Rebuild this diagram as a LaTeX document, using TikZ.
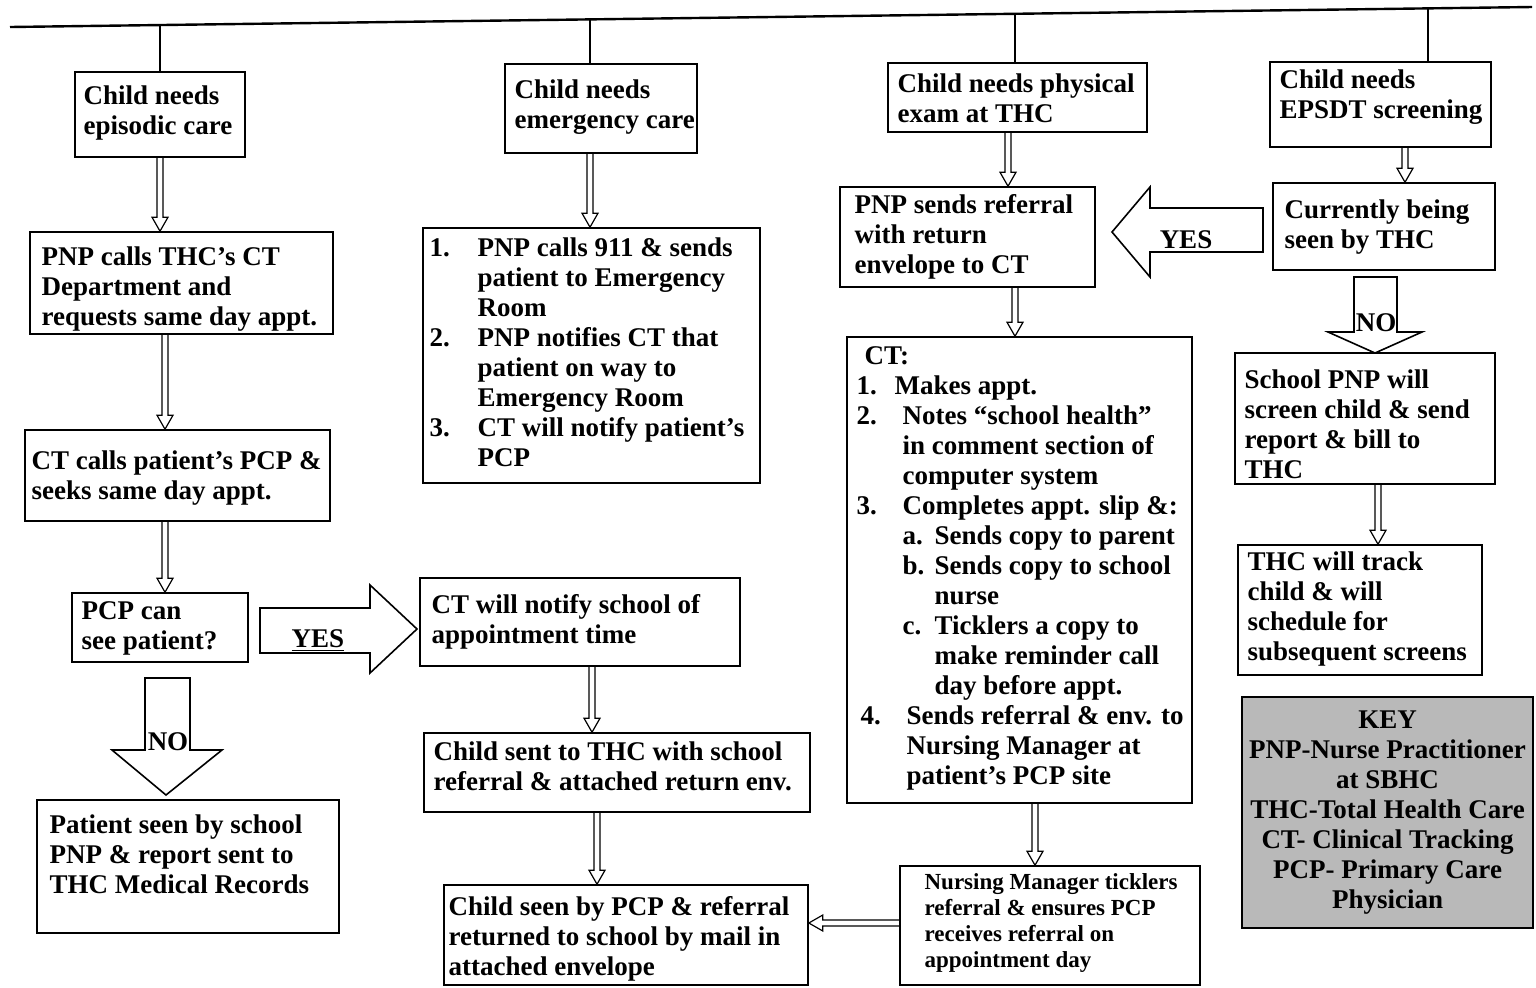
\documentclass[tikz,border=0pt]{standalone}
\usepackage{fontspec}
\setmainfont{Liberation Serif}
\usetikzlibrary{calc,fit}
\newcommand{\darr}[3]{%
  \path (#1,0) coordinate (dx);
  \coordinate (ds) at (#2.south -| dx);
  \coordinate (dt) at (#3.north -| dx);
  \draw[harrow] ($(ds)+(-3,0)$) -- ($(dt)+(-3,-14)$) -- ($(dt)+(-8,-14)$) -- (dt) -- ($(dt)+(8,-14)$) -- ($(dt)+(3,-14)$) -- ($(ds)+(3,0)$);}
\newcommand{\nb}[2]{\makebox[#1][l]{#2}}
\begin{document}
\begin{tikzpicture}[x=0.5pt,y=-0.5pt,
  box/.style={draw,line width=0.8pt,inner sep=0pt},
  txt/.style={inner sep=0pt,anchor=north west,align=left,font=\fontsize{13.5}{15}\selectfont\bfseries},
  smalltxt/.style={inner sep=0pt,anchor=north west,align=left,font=\fontsize{11.5}{13}\selectfont\bfseries},
  harrow/.style={draw,line width=0.6pt,line join=miter},
  big/.style={draw,line width=0.8pt,line join=miter,fill=white},
  lbl/.style={inner sep=0pt,font=\fontsize{13.5}{15}\selectfont\bfseries}]
\useasboundingbox (0,0) rectangle (1536,987);
\fill[white] (0,0) rectangle (1536,987);

% top line
\coordinate (L) at (10,27);
\coordinate (R) at (1532,7);
\draw[line width=1.2pt] (L) -- (R);

% row 1
\node[box, fit={(75,72) (245,157)}] (b1) {};
\node[txt] at ($(b1.north west)+(9,14)$) {Child needs\\episodic care};
\node[box, fit={(505,64) (697,153)}] (b2) {};
\node[txt] at ($(b2.north west)+(10,16)$) {Child needs\\emergency care};
\node[box, fit={(888,63) (1147,132)}] (b3) {};
\node[txt] at ($(b3.north west)+(10,11)$) {Child needs physical\\exam at THC};
\node[box, fit={(1270,62) (1491,147)}] (b4) {};
\node[txt] at ($(b4.north west)+(10,8)$) {Child needs\\EPSDT screening};

% drops
\path ($(L)!0.0986!(R)$) coordinate (t1);
\path ($(L)!0.3811!(R)$) coordinate (t2);
\path ($(L)!0.6603!(R)$) coordinate (t3);
\path ($(L)!0.9317!(R)$) coordinate (t4);
\draw[line width=0.8pt] (t1) -- (t1 |- b1.north);
\draw[line width=0.8pt] (t2) -- (t2 |- b2.north);
\draw[line width=0.8pt] (t3) -- (t3 |- b3.north);
\draw[line width=0.8pt] (t4) -- (t4 |- b4.north);

% column 1
\node[box, fit={(30,232) (333,334)}] (c1a) {};
\node[txt] at ($(c1a.north west)+(12,15)$) {PNP calls THC's CT\\Department and\\requests same day appt.};
\node[box, fit={(25,430) (330,521)}] (c1b) {};
\node[txt] at ($(c1b.north west)+(7,21)$) {CT calls patient's PCP \&\\seeks same day appt.};
\node[box, fit={(72,593) (248,662)}] (c1c) {};
\node[txt] at ($(c1c.north west)+(10,9)$) {PCP can\\see patient?};
\node[box, fit={(37,800) (339,933)}] (c1d) {};
\node[txt] at ($(c1d.north west)+(13,15)$) {Patient seen by school\\PNP \& report sent to\\THC Medical Records};

% column 2
\node[box, fit={(423,228) (760,483)}] (c2a) {};
\node[txt] at ($(c2a.north west)+(7,10)$) {\nb{24pt}{1.}PNP calls 911 \& sends\\\hspace*{24pt}patient to Emergency\\\hspace*{24pt}Room\\\nb{24pt}{2.}PNP notifies CT that\\\hspace*{24pt}patient on way to\\\hspace*{24pt}Emergency Room\\\nb{24pt}{3.}CT will notify patient's\\\hspace*{24pt}PCP};
\node[box, fit={(420,578) (740,666)}] (c2b) {};
\node[txt] at ($(c2b.north west)+(12,17)$) {CT will notify school of\\appointment time};
\node[box, fit={(424,733) (810,812)}] (c2c) {};
\node[txt] at ($(c2c.north west)+(10,9)$) {Child sent to THC with school\\referral \& attached return env.};
\node[box, fit={(444,885) (808,985)}] (c2d) {};
\node[txt] at ($(c2d.north west)+(5,12)$) {Child seen by PCP \& referral\\returned to school by mail in\\attached envelope};

% column 3
\node[box, fit={(840,187) (1095,287)}] (c3a) {};
\node[txt] at ($(c3a.north west)+(15,8)$) {PNP sends referral\\with return\\envelope to CT};
\node[box, fit={(847,337) (1192,803)}] (c3b) {};
\node[txt] at ($(c3b.north west)+(10,10)$) {\hspace*{4pt}CT:\\\nb{19pt}{1.}Makes appt.\\\nb{23pt}{2.}Notes “school health”\\\hspace*{23pt}in comment section of\\\hspace*{23pt}computer system\\\nb{23pt}{3.}Completes appt. slip \&:\\\hspace*{23pt}\nb{16pt}{a.}Sends copy to parent\\\hspace*{23pt}\nb{16pt}{b.}Sends copy to school\\\hspace*{39pt}nurse\\\hspace*{23pt}\nb{16pt}{c.}Ticklers a copy to\\\hspace*{39pt}make reminder call\\\hspace*{39pt}day before appt.\\\hspace*{2pt}\nb{23pt}{4.}Sends referral \& env. to\\\hspace*{25pt}Nursing Manager at\\\hspace*{25pt}patient's PCP site};
\node[box, fit={(900,866) (1200,985)}] (c3c) {};
\node[smalltxt] at ($(c3c.north west)+(25,8)$) {Nursing Manager ticklers\\referral \& ensures PCP\\receives referral on\\appointment day};

% column 4
\node[box, fit={(1273,183) (1495,270)}] (c4a) {};
\node[txt] at ($(c4a.north west)+(12,17)$) {Currently being\\seen by THC};
\node[box, fit={(1235,353) (1495,484)}] (c4b) {};
\node[txt] at ($(c4b.north west)+(10,17)$) {School PNP will\\screen child \& send\\report \& bill to\\THC};
\node[box, fit={(1238,545) (1482,675)}] (c4c) {};
\node[txt] at ($(c4c.north west)+(10,7)$) {THC will track\\child \& will\\schedule for\\subsequent screens};

% key
\node[box, fill=gray!55, fit={(1242,697) (1533,928)}] (key) {};
\node[lbl, align=center] at (key.center) {KEY\\PNP-Nurse Practitioner\\at SBHC\\THC-Total Health Care\\CT- Clinical Tracking\\PCP- Primary Care\\Physician};

% small hollow arrows
\darr{160}{b1}{c1a}
\darr{165}{c1a}{c1b}
\darr{165}{c1b}{c1c}
\darr{590}{b2}{c2a}
\darr{592}{c2b}{c2c}
\darr{597}{c2c}{c2d}
\darr{1008}{b3}{c3a}
\darr{1015}{c3a}{c3b}
\darr{1035}{c3b}{c3c}
\darr{1405}{b4}{c4a}
\darr{1378}{c4b}{c4c}
\path (0,923) coordinate (hy);
\coordinate (hs) at (c3c.west |- hy);
\coordinate (ht) at (c2d.east |- hy);
\draw[harrow] ($(hs)+(0,-3)$) -- ($(ht)+(14,-3)$) -- ($(ht)+(14,-8)$) -- (ht) -- ($(ht)+(14,8)$) -- ($(ht)+(14,3)$) -- ($(hs)+(0,3)$);

% big block arrows
\draw[big] (260,608) -- (370,608) -- (370,585) -- (417,629) -- (370,673) -- (370,653) -- (260,653) -- cycle;
\node[lbl] (yes1) at (318,641) {\underline{YES}};
\draw[big] (1263,208) -- (1150,208) -- (1150,187) -- (1112,232) -- (1150,277) -- (1150,252) -- (1263,252) -- cycle;
\node[lbl] (yes2) at (1186,242) {\underline{YES}};
\draw[big] (145,678) -- (190,678) -- (190,750) -- (222,750) -- (166,795) -- (112,750) -- (145,750) -- cycle;
\node[lbl] (no1) at (168,742) {NO};
\draw[big] (1354,277) -- (1397,277) -- (1397,332) -- (1422,332) -- (1375,353) -- (1328,332) -- (1354,332) -- cycle;
\node[lbl] (no2) at (1376,323) {NO};
\end{tikzpicture}
\end{document}
